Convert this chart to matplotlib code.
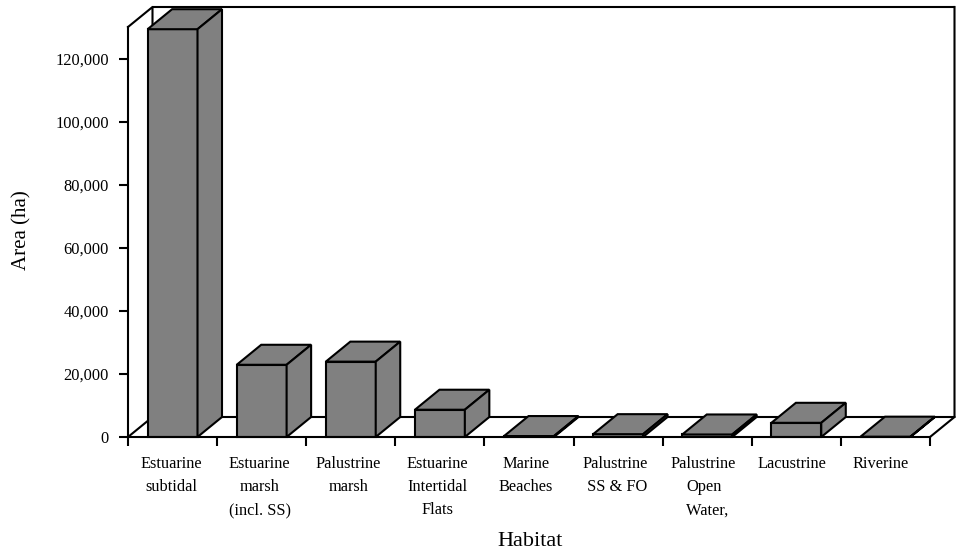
"""Habitat area bar chart with a hand-built 3-D box look."""
import matplotlib; matplotlib.use("Agg")
import matplotlib.pyplot as plt
from matplotlib.patches import Polygon

habitats = ['Estuarine\nsubtidal', 'Estuarine\nmarsh\n(incl. SS)', 'Palustrine\nmarsh',
            'Estuarine\nIntertidal\nFlats', 'Marine\nBeaches', 'Palustrine\n SS & FO',
            'Palustrine\nOpen\n  Water,', 'Lacustrine', 'Riverine']
area_ha = [129300, 22900, 23900, 8650, 300, 900, 800, 4500, 100]
yticks = [0, 20000, 40000, 60000, 80000, 100000, 120000]

W, H = 959, 556
plt.rcParams.update({'font.family': 'Liberation Serif', 'figure.dpi': 100})

fig = plt.figure(figsize=(W / 100, H / 100))
# front plane of the box, placed in pixels
L, R, T, B = 128, 930, 27, 437
ax = fig.add_axes([L / W, 1 - B / H, (R - L) / W, (B - T) / H])
ax.set_xlim(0, len(habitats))
ax.set_ylim(0, 130000)

# depth of the box in data units (24 px across, 20 px up)
dx = 24.5 * len(habitats) / (R - L)
dy = 20 * 130000 / (B - T)
lw = 1.5

# back walls and floor
xmax, ymax = len(habitats), 130000
ax.plot([0, dx, dx, xmax + dx, xmax + dx], [ymax, ymax + dy, dy, dy, ymax + dy],
        color='k', lw=lw, clip_on=False, zorder=1)
ax.plot([dx, xmax + dx], [ymax + dy, ymax + dy], color='k', lw=lw, clip_on=False, zorder=1)
ax.plot([0, dx], [0, dy], color='k', lw=lw, clip_on=False, zorder=1)
ax.plot([xmax, xmax + dx], [0, dy], color='k', lw=lw, clip_on=False, zorder=1)

width = 0.56
for i, v in enumerate(area_ha):
    x0, x1 = i + 0.5 - width / 2, i + 0.5 + width / 2
    ax.bar(i + 0.5, v, width, color='#808080', edgecolor='k', lw=lw, zorder=3, clip_on=False)
    top = [(x0, v), (x1, v), (x1 + dx, v + dy), (x0 + dx, v + dy)]
    side = [(x1, 0), (x1 + dx, dy), (x1 + dx, v + dy), (x1, v)]
    for pts in (top, side):
        ax.add_patch(Polygon(pts, facecolor='#808080', edgecolor='k', lw=lw,
                             joinstyle='miter', zorder=3, clip_on=False))

for s in ('top', 'right'):
    ax.spines[s].set_visible(False)
for s in ('left', 'bottom'):
    ax.spines[s].set_linewidth(lw)
    ax.spines[s].set_zorder(4)

ax.set_yticks(yticks)
ax.set_yticklabels([f'{t:,}' for t in yticks], fontsize=11.8)
ax.tick_params(axis='y', length=6.3, width=lw, pad=7.5)
ax.set_xticks(range(len(habitats) + 1))
ax.set_xticklabels([])
ax.tick_params(axis='x', which='major', length=6.3, width=lw)
# category labels sit a little left of the bar centres
ax.set_xticks([0.483 + i * 0.996 for i in range(len(habitats))], minor=True)
ax.set_xticklabels(habitats, minor=True, fontsize=11.8, linespacing=1.6, ha='center', va='top')
ax.tick_params(axis='x', which='minor', length=0, pad=13.5)

fig.text(530 / W, 1 - 541 / H, 'Habitat', fontsize=16, ha='center', va='center')
fig.text(22 / W, 1 - 230 / H, 'Area (ha)', fontsize=15, rotation=90, ha='center', va='center')

fig.savefig('out.png', dpi=100)
